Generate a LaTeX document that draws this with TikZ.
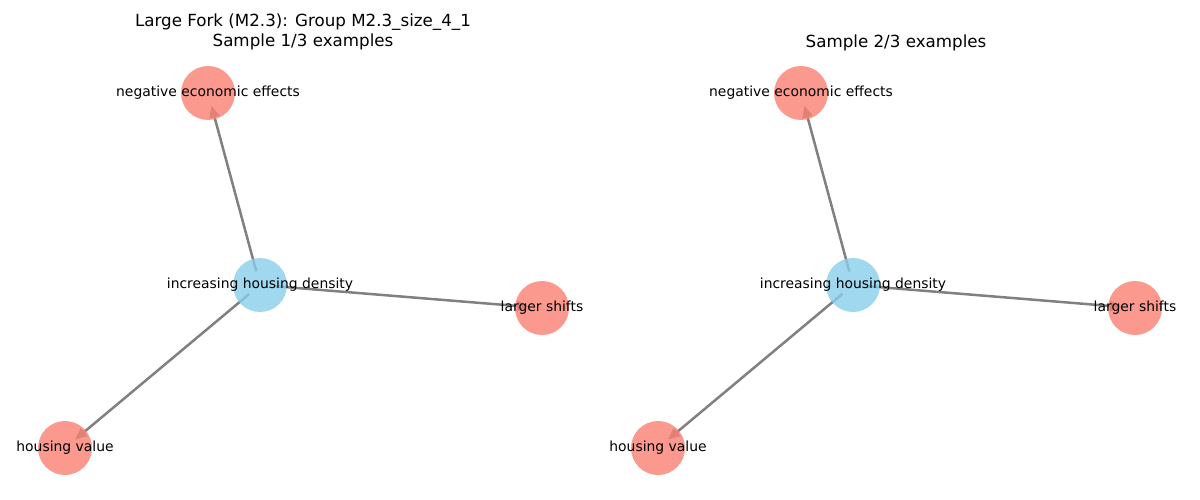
\documentclass[tikz,border=0pt]{standalone}
\usepackage{fontspec}
\setmainfont{DejaVu Sans}
\usetikzlibrary{arrows.meta,positioning}
\definecolor{salmonnode}{HTML}{FA8072}
\definecolor{skynode}{HTML}{87CEEB}

\begin{document}
\begin{tikzpicture}[x=1pt,y=-1pt,
	effect/.style={circle,minimum size=54pt,inner sep=0pt,fill=salmonnode,fill opacity=.8},
	cause/.style={effect,fill=skynode},
	lbl/.style={font=\fontsize{13.9}{16}\selectfont,inner sep=0pt},
	ttl/.style={font=\fontsize{16.7}{20}\selectfont,inner sep=0pt,align=center},
	edge/.style={draw=gray,line width=2.5pt,-{Triangle[length=12pt,width=10pt]},shorten <=14pt,shorten >=13pt}]
	\useasboundingbox (0,0) rectangle (1200,500);

	% both panels share one layout, shifted by 593
	\foreach \dx/\k in {0/1,593/2} {
		\coordinate (neg\k) at (\dx+208,93);
		\coordinate (inc\k) at (\dx+260,285);
		\coordinate (lrg\k) at (\dx+542,308);
		\coordinate (hou\k) at (\dx+65,448);
		\foreach \t in {neg,lrg,hou} \draw[edge] (inc\k) -- (\t\k);
		\foreach \t in {neg,lrg,hou} \node[effect] (c\t\k) at (\t\k) {};
		\node[cause] (cinc\k) at (inc\k) {};
		\node[lbl] (lneg\k) at (neg\k) {negative economic effects};
		\node[lbl] (linc\k) at (inc\k) {increasing housing density};
		\node[lbl] (llrg\k) at (lrg\k) {larger shifts};
		\node[lbl] (lhou\k) at (hou\k) {housing value};
	}

	\node[ttl] (title1) at (303,32) {Large Fork (M2.3): Group M2.3\_size\_4\_1\\Sample 1/3 examples};
	\node[ttl] (title2) at (896,43) {Sample 2/3 examples};
\end{tikzpicture}
\end{document}
